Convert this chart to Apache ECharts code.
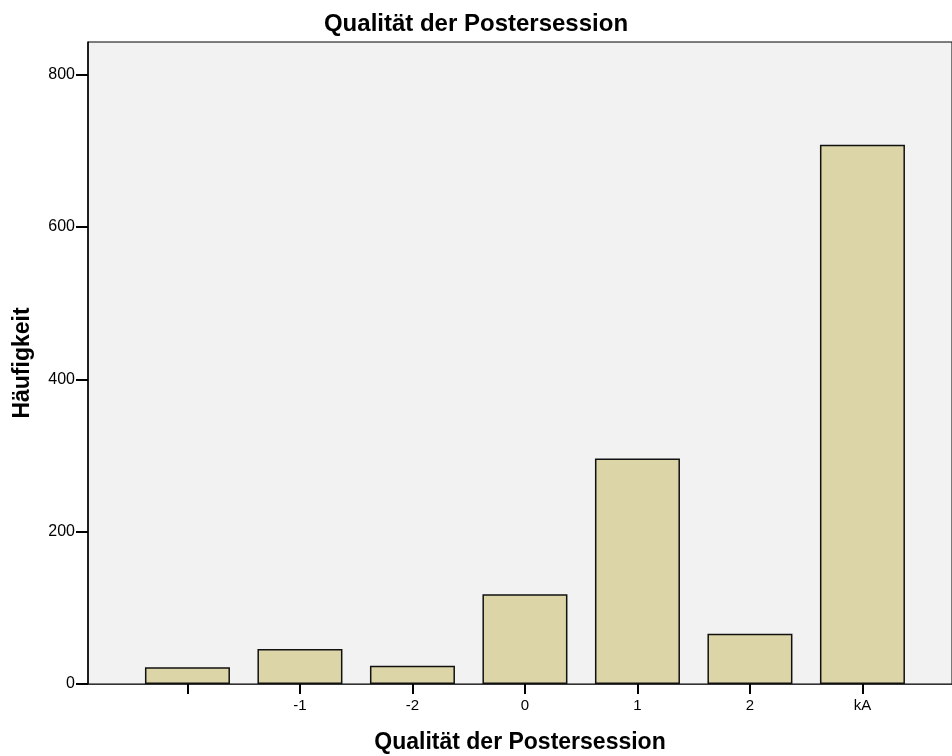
<!DOCTYPE html>
<html>
<head>
<meta charset="utf-8">
<script src="https://cdn.jsdelivr.net/npm/echarts@6/dist/echarts.min.js"></script>
<style>
  html, body { margin: 0; padding: 0; background: #fff; }
  #chart { width: 952px; height: 756px; }
</style>
</head>
<body>
<div id="chart"></div>
<script>
// Kategorien und Häufigkeiten
const categories = ['', '-1', '-2', '0', '1', '2', 'kA']
const counts = [22, 46, 24, 118, 296, 66, 708]
const yTicks = [0, 200, 400, 600, 800]

const positions = categories.map(function (c, i) { return i })
const barData = counts.map(function (v, i) { return [i, v] })

const chart = echarts.init(document.getElementById('chart'))
chart.setOption({
  backgroundColor: '#fff',
  animation: false,
  title: {
    text: 'Qualität der Postersession',
    left: 'center',
    top: 7,
    textStyle: {
      fontFamily: 'Liberation Sans',
      fontSize: 24,
      fontWeight: 'bold',
      color: '#000'
    }
  },
  grid: {
    left: 88,
    right: 0,
    top: 42,
    bottom: 72,
    outerBoundsMode: 'none',
    containLabel: false,
    show: true,
    backgroundColor: '#f2f2f2',
    borderColor: '#000',
    borderWidth: 1
  },
  xAxis: {
    type: 'value',
    min: -0.884,
    max: 6.796,
    name: 'Qualität der Postersession',
    nameLocation: 'middle',
    nameGap: 47,
    nameTextStyle: {
      fontFamily: 'Liberation Sans',
      fontSize: 23,
      fontWeight: 'bold',
      color: '#000'
    },
    splitLine: { show: false },
    axisLine: { show: true, onZero: false, lineStyle: { color: '#333', width: 1 } },
    axisTick: {
      show: true,
      length: 10,
      customValues: positions,
      lineStyle: { color: '#000', width: 2 }
    },
    axisLabel: {
      customValues: positions,
      margin: 14,
      fontFamily: 'Liberation Sans',
      fontSize: 15,
      color: '#000',
      formatter: function (v) {
        return categories[Math.round(v)]
      }
    }
  },
  yAxis: {
    type: 'value',
    min: 0,
    max: 843,
    interval: 200,
    name: 'Häufigkeit',
    nameLocation: 'middle',
    nameGap: 54,
    nameTextStyle: {
      fontFamily: 'Liberation Sans',
      fontSize: 23,
      fontWeight: 'bold',
      color: '#000'
    },
    splitLine: { show: false },
    axisLine: { show: true, onZero: false, lineStyle: { color: '#000', width: 1.5 } },
    axisTick: {
      show: true,
      length: 12,
      customValues: yTicks,
      lineStyle: { color: '#000', width: 2 }
    },
    axisLabel: {
      customValues: yTicks,
      margin: 13,
      fontFamily: 'Liberation Sans',
      fontSize: 16,
      color: '#000'
    }
  },
  series: [
    {
      type: 'bar',
      data: barData,
      barWidth: 85,
      itemStyle: {
        color: '#dcd5a7',
        borderColor: '#111',
        borderWidth: 1.5
      }
    }
  ]
})
</script>
</body>
</html>
